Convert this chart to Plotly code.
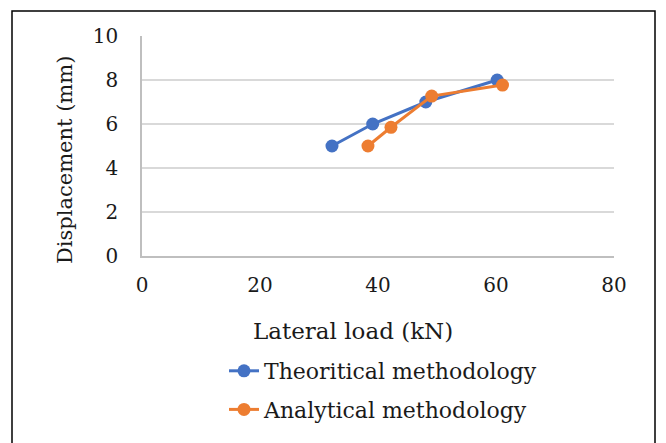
import plotly.graph_objects as go

theo_x = [32.2, 39.1, 48.1, 60.2]
theo_y = [5.0, 6.0, 7.0, 8.0]
ana_x = [38.3, 42.2, 49.1, 61.1]
ana_y = [5.0, 5.85, 7.27, 7.77]

x_ticks = [0, 20, 40, 60, 80]
y_ticks = [0, 2, 4, 6, 8, 10]

x_title = "Lateral load (kN)"
y_title = "Displacement (mm)"

FONT = "DejaVu Serif"
OFF = 8  # page body margin offset

fig = go.Figure()
fig.add_trace(go.Scatter(x=theo_x, y=theo_y, mode="lines+markers",
                         name="Theoritical methodology", legendgroup="a",
                         line=dict(color="#4472C4", width=3),
                         marker=dict(color="#4472C4", size=13)))
fig.add_trace(go.Scatter(x=ana_x, y=ana_y, mode="lines+markers",
                         name="Analytical methodology", legendgroup="b",
                         line=dict(color="#ED7D31", width=3),
                         marker=dict(color="#ED7D31", size=13)))

W, H = 666 - OFF, 443 - OFF
L, R, T, B = 142 - OFF, 52, 36 - OFF, 187
pw, ph = W - L - R, H - T - B

def px2x(px):
    return (px - OFF - L) / pw

def py2y(py):
    return (T + ph - (py - OFF)) / ph

fig.update_layout(
    width=W, height=H,
    margin=dict(l=L, r=R, t=T, b=B),
    paper_bgcolor="white", plot_bgcolor="white",
    font=dict(family=FONT, size=20, color="#1a1a1a"),
    showlegend=True,
    legend=dict(orientation="v", x=px2x(224), xanchor="left",
                y=py2y(350), yanchor="top",
                font=dict(family=FONT, size=22, color="#1a1a1a"),
                tracegroupgap=7, bgcolor="rgba(0,0,0,0)"),
    xaxis=dict(range=[0, 80], tickvals=x_ticks, showgrid=False,
               showline=True, linecolor="#bfbfbf", linewidth=1.5,
               zeroline=False, ticks="", ticklabelstandoff=10,
               tickfont=dict(family=FONT, size=20, color="#1a1a1a")),
    yaxis=dict(range=[0, 10], tickvals=y_ticks, showgrid=True,
               gridcolor="#d9d9d9", gridwidth=1.5,
               showline=True, linecolor="#bfbfbf", linewidth=1.5,
               zeroline=False, ticks="", ticklabelstandoff=18,
               tickfont=dict(family=FONT, size=20, color="#1a1a1a")),
    annotations=[
        dict(text=x_title, xref="paper", yref="paper",
             x=px2x(353), y=py2y(331), xanchor="center", yanchor="middle",
             showarrow=False,
             font=dict(family=FONT, size=23, color="#1a1a1a")),
        dict(text=y_title, xref="paper", yref="paper", textangle=-90,
             x=px2x(65), y=py2y(160), xanchor="center", yanchor="middle",
             showarrow=False,
             font=dict(family=FONT, size=21, color="#1a1a1a")),
    ],
    shapes=[dict(type="rect", xref="paper", yref="paper",
                 x0=px2x(12), x1=px2x(655), y0=py2y(470), y1=py2y(11),
                 line=dict(color="black", width=1.5), layer="above")],
)

fig.write_html("out.html")
